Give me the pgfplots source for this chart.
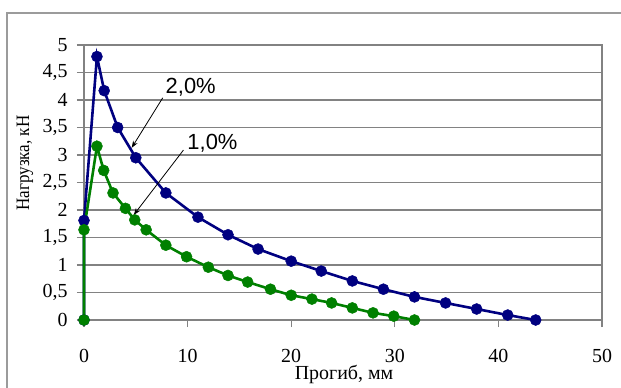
\documentclass[border=0pt]{standalone}
\usepackage{fontspec}
\setmainfont{Liberation Serif}
\newfontfamily\arial{Liberation Sans}
\usepackage{graphicx}
\usepackage{pgfplots}
\pgfplotsset{compat=1.18}
\usetikzlibrary{arrows.meta}
\definecolor{navy}{RGB}{0,0,128}
\definecolor{dgreen}{RGB}{0,128,0}
\definecolor{gridgrey}{RGB}{130,130,130}
\begin{document}
\begin{tikzpicture}[x=1bp,y=1bp]
\useasboundingbox (0,0) rectangle (621,387);
\clip (0,0) rectangle (621,387);
\fill[white] (0,0) rectangle (621,387);
\draw[gridgrey!80, line width=1.2bp] (7,-5) -- (7,374) -- (630,374);
\begin{axis}[
  at={(84bp,67bp)}, anchor=south west,
  scale only axis, width=518bp, height=275bp,
  xmin=0, xmax=50, ymin=0, ymax=5,
  xtick={0,10,...,50}, ytick={0,0.5,...,5},
  xtick pos=bottom, ytick pos=left,
  tick align=outside, major tick length=7bp,
  ymajorgrids, grid style={gridgrey, line width=1.3bp},
  axis line style={gridgrey, line width=1.3bp},
  every tick/.style={gridgrey, line width=1.3bp},
  ticklabel style={font=\fontsize{20}{22}\selectfont},
  /pgf/number format/assume math mode=true,
  /pgf/number format/use comma,
  yticklabel style={xshift=-6bp},
  xticklabel style={yshift=-19bp},
  xlabel={Прогиб, мм}, ylabel={\scalebox{0.9}[1]{Нагрузка, кН}},
  xlabel style={font=\fontsize{20}{22}\selectfont, at={(axis description cs:0.502,-0.218)}, anchor=base},
  ylabel style={font=\fontsize{19}{21}\selectfont, at={(axis description cs:-0.114,0.571)}, anchor=center},
  clip=false,
]
\addplot[navy, line width=2.6bp, mark=*, mark size=5.5bp, mark options={fill=navy, draw=navy, line width=0.5bp}] coordinates {
(0,0) (0,1.81) (1.25,4.79) (1.95,4.17) (3.25,3.5) (5.0,2.95) (7.9,2.31) (11,1.87) (13.9,1.55) (16.8,1.29) (20,1.07) (22.9,0.89) (25.9,0.71) (28.9,0.56) (31.9,0.42) (34.9,0.31) (37.9,0.2) (40.9,0.09) (43.6,0)
};
\addplot[dgreen, line width=2.6bp, mark=*, mark size=5.5bp, mark options={fill=dgreen, draw=dgreen, line width=0.5bp}] coordinates {
(0,0) (0,1.64) (1.25,3.16) (1.9,2.72) (2.8,2.31) (4.0,2.03) (4.9,1.82) (6.0,1.64) (7.9,1.36) (9.9,1.15) (12,0.96) (13.9,0.81) (15.8,0.69) (18,0.56) (20,0.45) (22,0.38) (23.9,0.31) (25.9,0.22) (27.9,0.13) (29.9,0.07) (31.9,0)
};
\draw[-{Stealth[length=7bp,width=5bp]}, line width=0.8bp] (axis cs:7.6,4.04) -- (axis cs:4.6,3.13);
\draw[-{Stealth[length=7bp,width=5bp]}, line width=0.8bp] (axis cs:9.6,3.09) -- (axis cs:4.8,1.91);
\node[font=\arial\fontsize{22}{24}\selectfont, text=black] at (axis cs:10.3,4.24) {2,0\%};
\node[font=\arial\fontsize{22}{24}\selectfont, text=black] at (axis cs:12.4,3.22) {1,0\%};
\end{axis}
\end{tikzpicture}
\end{document}
